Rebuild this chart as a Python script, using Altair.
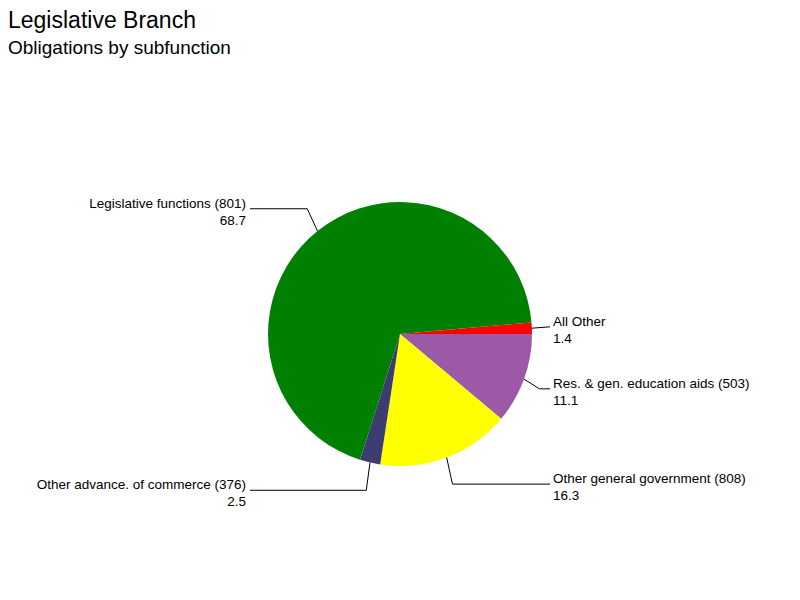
import math
import altair as alt
import pandas as pd

# ---- data ----
labels = [
    "All Other",
    "Res. & gen. education aids (503)",
    "Other general government (808)",
    "Other advance. of commerce (376)",
    "Legislative functions (801)",
]
values = [1.4, 11.1, 16.3, 2.5, 68.7]
colors = ["#ff0000", "#9b59a6", "#ffff00", "#3c3c70", "#008000"]
title_text = "Legislative Branch"
subtitle_text = "Obligations by subfunction"

# ---- layout (chart coords = page coords - 8) ----
CX, CY = 392, 326
R = 132
RX_E, RY_E = 129 * 1.15, 136 * 1.18
LEFT_END, RIGHT_END = 242, 542
LEFT_TEXT, RIGHT_TEXT = 238, 545
FONT = "Liberation Sans"

total = sum(values)
start = math.pi / 2 - values[0] / total * 2 * math.pi

pie_df = pd.DataFrame({"label": labels, "value": values, "ord": list(range(len(labels)))})

line_rows, text_rows = [], []
cum = 0.0
for i, (lab, v) in enumerate(zip(labels, values)):
    a = start + (cum + v / 2) / total * 2 * math.pi
    cum += v
    s, c = math.sin(a), math.cos(a)
    ex, ey = CX + R * s, CY - R * c
    bx, by = CX + RX_E * s, CY - RY_E * c
    right = s > 0
    endx = RIGHT_END if right else LEFT_END
    for k, (px, py) in enumerate([(ex, ey), (bx, by), (endx, by)]):
        line_rows.append({"label": lab, "k": k, "px": px, "py": py})
    text_rows.append({"txt": lab, "tx": RIGHT_TEXT if right else LEFT_TEXT,
                      "ty": by - 1, "side": "R" if right else "L"})
    text_rows.append({"txt": f"{v:.1f}", "tx": RIGHT_TEXT if right else LEFT_TEXT,
                      "ty": by + 16, "side": "R" if right else "L"})

line_df = pd.DataFrame(line_rows)
text_df = pd.DataFrame(text_rows)

pie = alt.Chart(pie_df).mark_arc(radius=R, stroke=None).encode(
    theta=alt.Theta("value:Q", stack=True,
                    scale=alt.Scale(range=[start, start + 2 * math.pi])),
    order=alt.Order("ord:Q"),
    color=alt.Color("label:N", scale=alt.Scale(domain=labels, range=colors), legend=None),
    x=alt.value(CX),
    y=alt.value(CY),
)

leaders = alt.Chart(line_df).mark_line(color="black", strokeWidth=1).encode(
    x=alt.X("px:Q", scale=None, axis=None),
    y=alt.Y("py:Q", scale=None, axis=None),
    detail="label:N",
    order="k:Q",
)

def txt_layer(side, align):
    return alt.Chart(text_df).transform_filter(alt.datum.side == side).mark_text(
        align=align, baseline="alphabetic", font=FONT, fontSize=13.5, color="black"
    ).encode(
        x=alt.X("tx:Q", scale=None, axis=None),
        y=alt.Y("ty:Q", scale=None, axis=None),
        text="txt:N",
    )

titles = alt.Chart(pd.DataFrame({"t": [title_text]})).mark_text(
    align="left", baseline="alphabetic", font=FONT, fontSize=23, color="black"
).encode(x=alt.value(0), y=alt.value(19.5), text="t:N")
subtitles = alt.Chart(pd.DataFrame({"t": [subtitle_text]})).mark_text(
    align="left", baseline="alphabetic", font=FONT, fontSize=19, color="black"
).encode(x=alt.value(0), y=alt.value(45.5), text="t:N")

chart = alt.layer(
    pie, leaders, txt_layer("L", "right"), txt_layer("R", "left"), titles, subtitles
).properties(
    width=784, height=584, padding=0, autosize="none", background="white"
).configure_view(stroke=None, strokeWidth=0)

chart.save("out.html", embed_options={"renderer": "svg", "actions": False})
